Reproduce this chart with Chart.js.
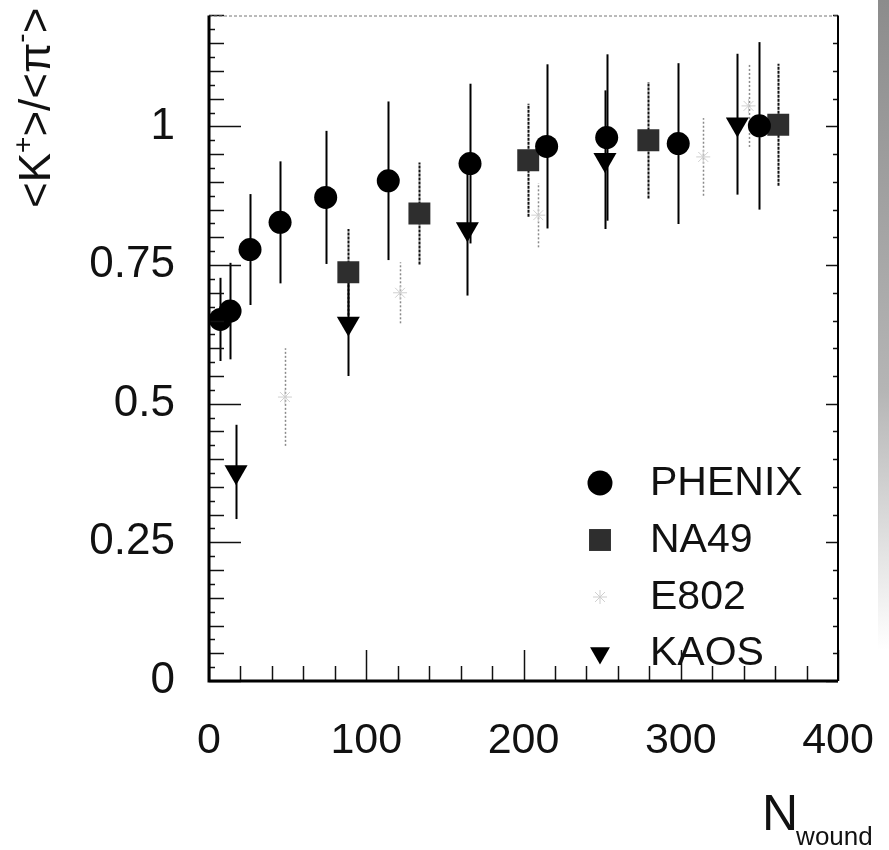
<!DOCTYPE html>
<html>
<head>
<meta charset="utf-8">
<script src="https://cdn.jsdelivr.net/npm/chart.js@4.4.1/dist/chart.umd.min.js"></script>
<style>
  html, body { margin: 0; padding: 0; background: #fff; }
  #wrap { position: relative; width: 889px; height: 850px; }
  #edge { position: absolute; right: 0; top: 0; width: 11px; height: 650px;
          background: linear-gradient(#8c8c8c, #b5b5b5 60%, #fff); }
</style>
</head>
<body>
<div id="wrap">
  <canvas id="chart" width="889" height="850"></canvas>
  <div id="edge"></div>
</div>
<script>
// values: K+/pi- ratio vs N_wound
const phenixN = [7.2, 13.4, 26.1, 45.2, 74.2, 114, 166, 214.7, 252.9, 298.4, 350];
const phenixR = [0.652, 0.667, 0.778, 0.827, 0.872, 0.902, 0.933, 0.964, 0.980, 0.969, 1.001];
const phenixErr = [0.075, 0.087, 0.10, 0.11, 0.12, 0.143, 0.144, 0.148, 0.15, 0.145, 0.151];

const na49N = [88.6, 133.8, 203, 279.4, 362];
const na49R = [0.737, 0.843, 0.939, 0.975, 1.003];
const na49Err = [0.078, 0.092, 0.102, 0.105, 0.11];

const e802N = [48.3, 121.5, 209.4, 314.3, 343.1];
const e802R = [0.512, 0.700, 0.840, 0.945, 1.037];
const e802Err = [0.088, 0.055, 0.058, 0.07, 0.074];

const kaosN = [17.2, 88.6, 164.3, 251.8, 336];
const kaosR = [0.377, 0.645, 0.815, 0.94, 1.004];
const kaosErr = [0.085, 0.095, 0.12, 0.125, 0.127];

const xTicks = [0, 100, 200, 300, 400];
const yTicks = [0, 0.25, 0.5, 0.75, 1];

const FONT = "'Liberation Sans', Arial, sans-serif";

function pts(xs, ys) {
  return xs.map((v, i) => ({ x: v, y: ys[i] }));
}

const errorBars = {
  id: "errorBars",
  beforeDatasetsDraw(chart) {
    const { ctx, scales: { x, y } } = chart;
    chart.data.datasets.forEach((ds) => {
      ctx.save();
      ctx.strokeStyle = ds.barColor;
      ctx.lineWidth = ds.barWidth;
      ctx.setLineDash(ds.barDash || []);
      ds.data.forEach((p, i) => {
        const px = Math.round(x.getPixelForValue(p.x)) + 0.5;
        ctx.beginPath();
        ctx.moveTo(px, y.getPixelForValue(p.y - ds.errors[i]));
        ctx.lineTo(px, y.getPixelForValue(p.y + ds.errors[i]));
        ctx.stroke();
      });
      ctx.restore();
    });
  },
};

// ROOT style frame with inward ticks
const frame = {
  id: "frame",
  afterDraw(chart) {
    const { ctx, chartArea: a, scales: { x, y } } = chart;
    ctx.save();
    ctx.strokeStyle = "#111";
    ctx.lineWidth = 1.5;
    for (let i = 0; i <= 48; i += 1) {
      const py = Math.round(y.getPixelForValue(i * 0.025)) + 0.5;
      const len = i % 10 === 0 ? 32 : i % 2 === 0 ? 15 : 6;
      ctx.beginPath();
      ctx.moveTo(a.left, py);
      ctx.lineTo(a.left + len, py);
      ctx.stroke();
      if (i % 2 === 0) {
        ctx.beginPath();
        ctx.moveTo(a.right, py);
        ctx.lineTo(a.right - (i % 10 === 0 ? 12 : 5), py);
        ctx.stroke();
      }
    }
    for (let i = 0; i <= 20; i += 1) {
      const px = Math.round(x.getPixelForValue(i * 20)) + 0.5;
      const len = i % 5 === 0 ? 31 : 15;
      ctx.beginPath();
      ctx.moveTo(px, a.bottom);
      ctx.lineTo(px, a.bottom - len);
      ctx.stroke();
    }
    // top edge is faint in the scan
    ctx.strokeStyle = "#777";
    ctx.lineWidth = 1;
    ctx.setLineDash([3, 2]);
    ctx.beginPath();
    ctx.moveTo(a.left, a.top + 0.5);
    ctx.lineTo(a.right, a.top + 0.5);
    ctx.stroke();
    ctx.setLineDash([]);
    ctx.strokeStyle = "#000";
    ctx.lineWidth = 3;
    ctx.beginPath();
    ctx.moveTo(a.left, a.top);
    ctx.lineTo(a.left, a.bottom);
    ctx.lineTo(a.right, a.bottom);
    ctx.stroke();
    ctx.lineWidth = 2;
    ctx.beginPath();
    ctx.moveTo(a.right, a.top);
    ctx.lineTo(a.right, a.bottom);
    ctx.stroke();
    ctx.restore();
  },
};

const legendBox = {
  id: "legendBox",
  afterDraw(chart) {
    const { ctx } = chart;
    const rows = [483, 540, 597, 653];
    ctx.save();
    chart.data.datasets.forEach((ds, i) => {
      ctx.fillStyle = ds.backgroundColor;
      ctx.strokeStyle = ds.borderColor || ds.backgroundColor;
      ctx.lineWidth = ds.borderWidth || 0;
      Chart.helpers.drawPoint(ctx, {
        pointStyle: ds.pointStyle,
        radius: ds.legendRadius,
        rotation: ds.rotation || 0,
        borderWidth: ds.borderWidth || 0,
      }, 600, rows[i]);
      ctx.fillStyle = "#111";
      ctx.font = "41px " + FONT;
      ctx.textBaseline = "middle";
      ctx.textAlign = "left";
      ctx.fillText(ds.label, 650, rows[i] + 1);
    });
    ctx.restore();
  },
};

const axisTitles = {
  id: "axisTitles",
  afterDraw(chart) {
    const { ctx } = chart;
    ctx.save();
    ctx.fillStyle = "#111";
    ctx.textBaseline = "alphabetic";
    ctx.textAlign = "left";
    // y title, rotated, near the top
    ctx.translate(50, 208);
    ctx.rotate(-Math.PI / 2);
    const big = "44px " + FONT;
    const small = "28px " + FONT;
    const parts = [["<K", big, 0], ["+", small, -18], [">/<\u03c0", big, 0], ["-", small, -20], [">", big, 0]];
    let cx = 0;
    parts.forEach(([t, f, dy]) => {
      ctx.font = f;
      ctx.fillText(t, cx, dy);
      cx += ctx.measureText(t).width;
    });
    ctx.restore();

    ctx.save();
    ctx.fillStyle = "#111";
    ctx.textBaseline = "alphabetic";
    ctx.font = "50px " + FONT;
    ctx.fillText("N", 762, 830);
    const w = ctx.measureText("N").width;
    ctx.font = "26px " + FONT;
    ctx.fillText("wound", 760 + w, 845);
    ctx.restore();
  },
};

new Chart(document.getElementById("chart"), {
  type: "scatter",
  data: {
    datasets: [
      {
        label: "PHENIX", data: pts(phenixN, phenixR), errors: phenixErr,
        pointStyle: "circle", pointRadius: 11.5, legendRadius: 12.5,
        backgroundColor: "#000", borderColor: "#000", borderWidth: 0,
        barColor: "#000", barWidth: 2,
      },
      {
        label: "NA49", data: pts(na49N, na49R), errors: na49Err,
        pointStyle: "rect", pointRadius: 15.5, legendRadius: 15.5,
        backgroundColor: "#2e2e2e", borderColor: "#2e2e2e", borderWidth: 0,
        barColor: "#111", barWidth: 2, barDash: [3, 1],
      },
      {
        label: "E802", data: pts(e802N, e802R), errors: e802Err,
        pointStyle: "star", pointRadius: 7, legendRadius: 7,
        backgroundColor: "#cfcfcf", borderColor: "#cfcfcf", borderWidth: 1,
        barColor: "#8a8a8a", barWidth: 1.5, barDash: [2, 2],
      },
      {
        label: "KAOS", data: pts(kaosN, kaosR), errors: kaosErr,
        pointStyle: "triangle", rotation: 180, pointRadius: 13.3, legendRadius: 11.5,
        backgroundColor: "#000", borderColor: "#000", borderWidth: 0,
        barColor: "#000", barWidth: 2,
      },
    ],
  },
  options: {
    responsive: false,
    animation: false,
    layout: { padding: { top: 6, right: 51, left: 0, bottom: 0 } },
    plugins: { legend: { display: false }, tooltip: { enabled: false } },
    scales: {
      x: {
        type: "linear", min: 0, max: 400,
        afterFit: (s) => { s.height = 169; s.paddingLeft = 0; s.paddingRight = 0; },
        afterBuildTicks: (s) => { s.ticks = xTicks.map((v) => ({ value: v })); },
        grid: { display: false, drawTicks: false },
        border: { display: false },
        ticks: { color: "#111", padding: 34, maxRotation: 0, font: { family: FONT, size: 43 },
                 callback: (v) => String(v) },
      },
      y: {
        type: "linear", min: 0, max: 1.2,
        afterFit: (s) => { s.width = 209; s.paddingTop = 0; s.paddingBottom = 0; },
        afterBuildTicks: (s) => { s.ticks = yTicks.map((v) => ({ value: v })); },
        grid: { display: false, drawTicks: false },
        border: { display: false },
        ticks: { color: "#111", padding: 34, font: { family: FONT, size: 44 },
                 callback: (v) => String(v) },
      },
    },
  },
  plugins: [errorBars, frame, legendBox, axisTitles],
});
</script>
</body>
</html>
